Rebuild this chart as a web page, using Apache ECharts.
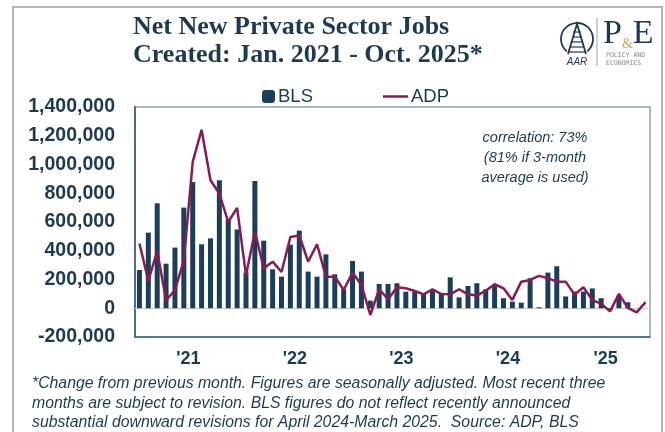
<!DOCTYPE html>
<html>
<head>
<meta charset="utf-8">
<script src="https://cdn.jsdelivr.net/npm/echarts@6/dist/echarts.min.js"></script>
<style>
  html, body { margin: 0; padding: 0; background: #fff; }
  #chart { width: 665px; height: 432px; }
</style>
</head>
<body>
<div id="chart"></div>
<script>
// monthly categories, Jan 2021 - Oct 2025
const years = [2021, 2022, 2023, 2024, 2025];
const monthNames = ["Jan", "Feb", "Mar", "Apr", "May", "Jun", "Jul", "Aug", "Sep", "Oct", "Nov", "Dec"];
const months = [];
years.forEach(function (y) {
  monthNames.forEach(function (m, i) {
    if (y === 2025 && i > 9) return;
    months.push(m + " " + y);
  });
});

// x axis year labels and where they sit (category index)
const yearLabels = ["'21", "'22", "'23", "'24", "'25"];
const yearLabelIndex = [5, 17, 29, 41, 52];

// net new private sector jobs
const bls = [
  266000, 526000, 730000, 310000, 422000, 700000, 878000, 445000, 486000, 890000, 620000, 548000,
  248000, 885000, 470000, 271000, 220000, 443000, 540000, 255000, 220000, 375000, 236000, 132000,
  329000, 255000, 53000, 169000, 169000, 174000, 115000, 115000, 100000, 120000, 100000, 215000,
  76000, 155000, 174000, 132000, 162000, 70000, 46000, 39000, 209000, 7000, 248000, 292000,
  82000, 116000, 116000, 138000, 70000, -13000, 88000, 42000, null, null
];
const adp = [
  450000, 192000, 398000, 56000, 125000, 334000, 1018000, 1242000, 890000, 798000, 600000, 698000,
  230000, 533000, 278000, 324000, 252000, 496000, 506000, 324000, 445000, 220000, 220000, 127000,
  248000, 162000, -47000, 132000, 63000, 146000, 139000, 120000, 97000, 132000, 99000, 97000,
  132000, 97000, 88000, 122000, 167000, 139000, 58000, 185000, 197000, 225000, 209000, 185000,
  185000, 95000, 146000, 57000, 32000, -22000, 100000, 3000, -29000, 43000
];

const navy = "#1c3b53";
const chart = echarts.init(document.getElementById("chart"));

chart.setOption({
  animation: false,
  title: {
    text: "Net New Private Sector Jobs\nCreated: Jan. 2021 - Oct. 2025*",
    left: 128,
    top: 8,
    textStyle: {
      fontFamily: "Liberation Serif",
      fontWeight: "bold",
      fontSize: 26,
      lineHeight: 28,
      color: navy
    }
  },
  legend: [
    {
      data: ["BLS"],
      left: 257,
      top: 82,
      itemWidth: 13,
      itemHeight: 13,
      itemGap: 5,
      textStyle: { fontFamily: "Liberation Sans", fontSize: 18.5, color: navy, padding: [0, 0, 0, -2] }
    },
    {
      data: [{ name: "ADP", icon: "rect" }],
      left: 378,
      top: 82,
      itemWidth: 25,
      itemHeight: 2.5,
      textStyle: { fontFamily: "Liberation Sans", fontSize: 18.5, color: navy, padding: [0, 0, 0, -2] }
    }
  ],
  grid: {
    left: 135,
    right: 15,
    top: 107,
    bottom: 95,
    show: true,
    borderColor: "#8ea2b3",
    borderWidth: 1.5
  },
  xAxis: [
    {
      type: "category",
      data: months,
      axisLine: { onZero: false, lineStyle: { color: "#3f6580", width: 1.5 } },
      axisTick: { show: false },
      axisLabel: {
        interval: function (idx) { return yearLabelIndex.indexOf(idx) >= 0; },
        formatter: function (v, idx) { return yearLabels[yearLabelIndex.indexOf(idx)]; },
        margin: 13,
        padding: [0, 0, 0, 9],
        fontFamily: "Liberation Sans",
        fontWeight: "bold",
        fontSize: 18,
        color: navy
      }
    },
    {
      // zero line with year ticks
      type: "category",
      data: months,
      position: "top",
      axisLine: { onZero: true, lineStyle: { color: "#c3ccd4", width: 1 } },
      axisTick: {
        inside: true,
        length: 4,
        interval: function (idx) { return idx % 12 === 0; },
        lineStyle: { color: "#8a9aa8" }
      },
      axisLabel: { show: false }
    }
  ],
  yAxis: {
    type: "value",
    min: -200000,
    max: 1400000,
    interval: 200000,
    splitLine: { show: false },
    axisLine: { show: true, lineStyle: { color: "#2f5570", width: 1.5 } },
    axisLabel: {
      margin: 20,
      fontFamily: "Liberation Sans",
      fontWeight: "bold",
      fontSize: 19.5,
      color: navy,
      formatter: function (v) { return v.toLocaleString("en-US"); }
    }
  },
  series: [
    {
      name: "BLS",
      type: "bar",
      xAxisIndex: 0,
      barWidth: 5,
      itemStyle: { color: "#1b3f5b" },
      data: bls
    },
    {
      name: "ADP",
      type: "line",
      xAxisIndex: 0,
      symbol: "none",
      lineStyle: { color: "#8b1a54", width: 2.5 },
      itemStyle: { color: "#8b1a54" },
      z: 5,
      data: adp
    }
  ],
  graphic: [
    {
      // outer frame
      type: "rect",
      shape: { x: 13, y: 7, width: 649, height: 440 },
      style: { fill: "none", stroke: "#b5b5b5", lineWidth: 2 },
      silent: true
    },
    {
      type: "text",
      x: 535,
      y: 128,
      style: {
        text: "correlation: 73%\n(81% if 3-month\naverage is used)",
        align: "center",
        fontFamily: "Liberation Sans",
        fontStyle: "italic",
        fontSize: 14.5,
        lineHeight: 20,
        fill: navy
      }
    },
    {
      type: "text",
      x: 32,
      y: 374,
      style: {
        text: "*Change from previous month. Figures are seasonally adjusted. Most recent three\n" +
              "months are subject to revision. BLS figures do not reflect recently announced\n" +
              "substantial downward revisions for April 2024-March 2025.  Source: ADP, BLS",
        fontFamily: "Liberation Sans",
        fontStyle: "italic",
        fontSize: 15.8,
        lineHeight: 19.5,
        fill: navy
      }
    },
    // AAR logo
    {
      type: "group",
      silent: true,
      children: [
        { type: "arc", shape: { cx: 577, cy: 39, r: 16, startAngle: Math.PI * 0.72, endAngle: Math.PI * 2.28 },
          style: { stroke: navy, lineWidth: 1.8, fill: "none" } },
        { type: "polyline", shape: { points: [[568, 54], [577, 24], [586, 54]] },
          style: { stroke: navy, lineWidth: 1.8, fill: "none" } },
        { type: "line", shape: { x1: 573, y1: 32, x2: 581, y2: 32 }, style: { stroke: navy, lineWidth: 1.2 } },
        { type: "line", shape: { x1: 572, y1: 37, x2: 582, y2: 37 }, style: { stroke: navy, lineWidth: 1.2 } },
        { type: "line", shape: { x1: 571, y1: 42, x2: 583, y2: 42 }, style: { stroke: navy, lineWidth: 1.2 } },
        { type: "line", shape: { x1: 570, y1: 47, x2: 584, y2: 47 }, style: { stroke: navy, lineWidth: 1.2 } },
        { type: "line", shape: { x1: 569, y1: 52, x2: 585, y2: 52 }, style: { stroke: navy, lineWidth: 1.2 } },
        { type: "text", x: 577, y: 57, style: { text: "AAR", align: "center", fontFamily: "Liberation Sans",
          fontStyle: "italic", fontSize: 10, fill: navy } },
        { type: "line", shape: { x1: 597, y1: 18, x2: 597, y2: 66 }, style: { stroke: "#a0a0a0", lineWidth: 1 } },
        { type: "text", x: 603, y: 17, style: {
          text: "{a|P}{b|&}{a|E}",
          rich: {
            a: { fontFamily: "Liberation Serif", fontSize: 34, fill: navy, lineHeight: 34 },
            b: { fontFamily: "Liberation Serif", fontSize: 14, fill: "#c9a45c", lineHeight: 34, verticalAlign: "bottom" }
          } } },
        { type: "text", x: 606, y: 52, style: { text: "POLICY AND", fontFamily: "DejaVu Sans Mono",
          fontSize: 6.5, fill: "#8a8a8a" } },
        { type: "text", x: 606, y: 60, style: { text: "ECONOMICS", fontFamily: "DejaVu Sans Mono",
          fontSize: 6.5, fill: "#8a8a8a" } }
      ]
    }
  ]
});
</script>
</body>
</html>
